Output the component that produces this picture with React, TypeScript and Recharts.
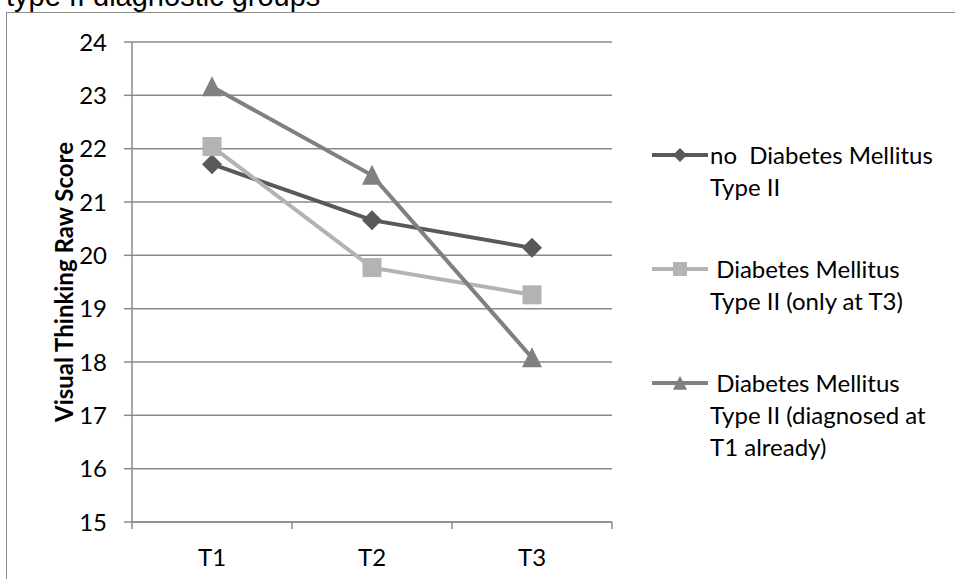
import React from 'react';
import { LineChart, Line, XAxis, YAxis, CartesianGrid, Legend } from 'recharts';

// categories (time points) and the three group means
const categories = ['T1', 'T2', 'T3'];
const noDiabetes = [21.71, 20.66, 20.14];
const diabetesOnlyT3 = [22.04, 19.77, 19.26];
const diabetesAtT1 = [23.16, 21.5, 18.08];
const seriesNames = [
    'no  Diabetes Mellitus\nType II',
    ' Diabetes Mellitus\nType II (only at T3)',
    ' Diabetes Mellitus\nType II (diagnosed at\nT1 already)',
];
const yTicks = [15, 16, 17, 18, 19, 20, 21, 22, 23, 24];
const xBoundaries = [0, 1, 2, 3];

const FONT = 'Lato, "Open Sans", sans-serif';
const AXIS_GRAY = '#8a8a8a';

// x sits mid-way between the boundary ticks, like Excel's category axis
const chartData = categories.map((c, i) => ({
    x: i + 0.5,
    name: c,
    s0: noDiabetes[i],
    s1: diabetesOnlyT3[i],
    s2: diabetesAtT1[i],
}));

type Shape = 'diamond' | 'square' | 'triangle';

const markerPath = (shape: Shape, cx: number, cy: number, r: number) => {
    if (shape === 'diamond') {
        return `M${cx},${cy - r}L${cx + r},${cy}L${cx},${cy + r}L${cx - r},${cy}Z`;
    }
    if (shape === 'square') {
        return `M${cx - r},${cy - r}H${cx + r}V${cy + r}H${cx - r}Z`;
    }
    return `M${cx},${cy - r * 1.05}L${cx + r},${cy + r * 0.95}L${cx - r},${cy + r * 0.95}Z`;
};

const series: { key: string; color: string; shape: Shape; size: number }[] = [
    { key: 's0', color: '#595959', shape: 'diamond', size: 10 },
    { key: 's1', color: '#b3b3b3', shape: 'square', size: 9.5 },
    { key: 's2', color: '#808080', shape: 'triangle', size: 10 },
];

const makeDot = (shape: Shape, color: string, size: number) => (props: any) => {
    const { cx, cy, index } = props;
    if (cx == null || cy == null) return <g key={`d-${index}`} />;
    return <path key={`d-${shape}-${index}`} d={markerPath(shape, cx, cy, size)} fill={color} />;
};

const LegendContent = () => (
    <div style={{ fontFamily: FONT, fontSize: 24, lineHeight: '32px', color: '#000' }}>
        {series.map((s, i) => (
            <div key={s.key} style={{ display: 'flex', alignItems: 'flex-start', marginBottom: 50 }}>
                <svg width={58} height={32} style={{ flex: 'none' }}>
                    <line x1={0} y1={16} x2={56} y2={16} stroke={s.color} strokeWidth={4} />
                    <path d={markerPath(s.shape, 28, 16, 7)} fill={s.color} />
                </svg>
                <div style={{ whiteSpace: 'pre' }}>{seriesNames[i]}</div>
            </div>
        ))}
    </div>
);

const App: React.FC = () => {
    return (
        <div
            style={{
                position: 'absolute',
                left: 0,
                top: 0,
                width: 955,
                height: 579,
                overflow: 'hidden',
                background: '#fff',
            }}
        >
            {/* title, mostly cut off by the crop */}
            <div
                style={{
                    position: 'absolute',
                    left: 6,
                    top: -18,
                    fontFamily: '"Liberation Sans", Arial, sans-serif',
                    fontSize: 29,
                    lineHeight: '29px',
                    whiteSpace: 'nowrap',
                    color: '#000',
                }}
            >
                type II diagnostic groups
            </div>
            {/* chart area frame */}
            <div
                style={{
                    position: 'absolute',
                    left: 6,
                    top: 12,
                    width: 2000,
                    height: 2000,
                    border: '1.5px solid #8c8c8c',
                }}
            />
            <div style={{ position: 'absolute', left: 0, top: 0 }}>
                <LineChart
                    width={955}
                    height={579}
                    data={chartData}
                    margin={{ top: 42, right: 43, bottom: 17, left: 0 }}
                >
                    <CartesianGrid vertical={false} stroke={AXIS_GRAY} strokeWidth={1.5} />
                    <XAxis
                        dataKey="x"
                        type="number"
                        domain={[0, 3]}
                        ticks={xBoundaries}
                        interval={0}
                        height={40}
                        tickSize={7}
                        tickMargin={20}
                        tickFormatter={(v: number) => categories[v] ?? ''}
                        tick={{ dx: 80, fill: '#000', fontSize: 24, fontFamily: FONT }}
                        stroke={AXIS_GRAY}
                        axisLine={{ stroke: AXIS_GRAY, strokeWidth: 1.5 }}
                        tickLine={{ stroke: AXIS_GRAY, strokeWidth: 1.5 }}
                    />
                    <YAxis
                        type="number"
                        domain={[15, 24]}
                        ticks={yTicks}
                        interval={0}
                        width={132}
                        tickSize={8}
                        tickMargin={17}
                        tick={{ fill: '#000', fontSize: 24, fontFamily: FONT }}
                        stroke={AXIS_GRAY}
                        axisLine={{ stroke: AXIS_GRAY, strokeWidth: 1.5 }}
                        tickLine={{ stroke: AXIS_GRAY, strokeWidth: 1.5 }}
                        label={{
                            value: 'Visual Thinking Raw Score',
                            angle: -90,
                            position: 'center',
                            dx: -2,
                            style: {
                                fontFamily: FONT,
                                fontSize: 24,
                                fontWeight: 700,
                                fill: '#000',
                                textAnchor: 'middle',
                            },
                        }}
                    />
                    <Legend
                        layout="vertical"
                        align="right"
                        verticalAlign="top"
                        width={300}
                        wrapperStyle={{ left: 652, top: 139 }}
                        content={<LegendContent />}
                    />
                    {series.map((s, i) => (
                        <Line
                            key={s.key}
                            type="linear"
                            dataKey={s.key}
                            name={seriesNames[i]}
                            stroke={s.color}
                            strokeWidth={4}
                            dot={makeDot(s.shape, s.color, s.size)}
                            activeDot={false}
                            isAnimationActive={false}
                        />
                    ))}
                </LineChart>
            </div>
        </div>
    );
};

export default App;
